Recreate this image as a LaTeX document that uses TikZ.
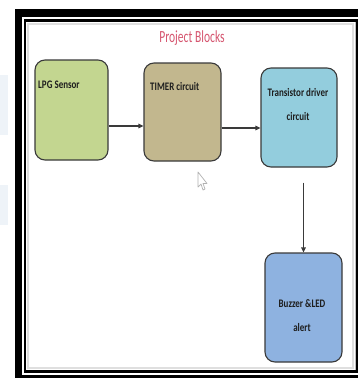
\documentclass[tikz,border=0pt]{standalone}
\usepackage{fontspec}
\usetikzlibrary{arrows.meta}
\newfontfamily\boxfont[FakeStretch=0.78]{Carlito}
\newfontfamily\titlefont[FakeStretch=0.68]{Carlito}
\definecolor{lpgfill}{HTML}{C3D690}
\definecolor{timerfill}{HTML}{C2B78E}
\definecolor{transfill}{HTML}{93CDDD}
\definecolor{buzzfill}{HTML}{8EB2E0}
\definecolor{titlecol}{HTML}{D65670}
\definecolor{edgecol}{HTML}{3A3A3A}
\definecolor{txtcol}{HTML}{1E1E1E}
\definecolor{screenblue}{HTML}{EEF3F8}
\tikzset{
  blockbox/.style={draw=edgecol, line width=1.1pt, rounded corners=10pt, inner sep=0pt},
  blocktext/.style={font=\boxfont\bfseries\fontsize{11.5}{23.5}\selectfont, text=txtcol, inner sep=0pt, align=center},
  arr/.style={draw=edgecol, line width=1.1pt, -{Triangle[length=5pt,width=4.5pt]}},
  cursorline/.style={draw=gray!60, line width=0.7pt, line join=round}
}
\begin{document}
\begin{tikzpicture}[x=1pt,y=-1pt]
\useasboundingbox (0,0) rectangle (358,380);
\fill[white] (0,0) rectangle (358,380);
% faint screen background strips at left
\fill[screenblue] (0,75) rectangle (8,135);
\fill[screenblue] (0,185) rectangle (8,225);
% frame
\fill[black] (15,9) rectangle (362,378);
\fill[white] (22,17) rectangle (362,375);
\fill[black] (24,19) rectangle (362,373);
\fill[white] (26,22) rectangle (355,370);
\draw[gray!25, line width=2.5pt] (28,24) rectangle (353,368);
\draw[gray!50, line width=0.8pt] (355,22) -- (355,370);
% title
\node[font=\titlefont\fontsize{17}{17}\selectfont, text=titlecol, inner sep=0pt] (title) at (192,38) {Project Blocks};
% blocks
\node[blockbox, fill=lpgfill, minimum width=73pt, minimum height=100pt] (lpg) at (71.5,110) {};
\node[blockbox, fill=timerfill, minimum width=77pt, minimum height=98pt] (timer) at (182.5,112) {};
\node[blockbox, fill=transfill, minimum width=76pt, minimum height=99pt] (trans) at (299,117.5) {};
\node[blockbox, fill=buzzfill, minimum width=77pt, minimum height=109pt] (buzz) at (303.5,307.5) {};
% texts
\node[blocktext, anchor=base west] (lpgt) at (38,88) {LPG Sensor};
\node[blocktext, anchor=base west] (timert) at (150,90) {TIMER circuit};
\node[blocktext, anchor=base] (transt) at (298,120) {Transistor driver\\circuit};
\node[blocktext, anchor=base] (buzzt) at (302,331) {Buzzer \&LED\\alert};
% connectors
\draw[arr] ([yshift=-16pt]lpg.east) -- ([yshift=-16pt]lpg.east -| timer.west);
\draw[arr] ([yshift=-16pt]timer.east) -- ([yshift=-16pt]timer.east -| trans.west);
\draw[arr, shorten <=15pt] (buzz.north |- trans.south) -- (buzz.north);
% mouse cursor
\draw[cursorline] (198,172) -- (198,187) -- (201,184) -- (203,190) -- (205,189) -- (203,183.5) -- (207,183.5) -- cycle;
\end{tikzpicture}
\end{document}
